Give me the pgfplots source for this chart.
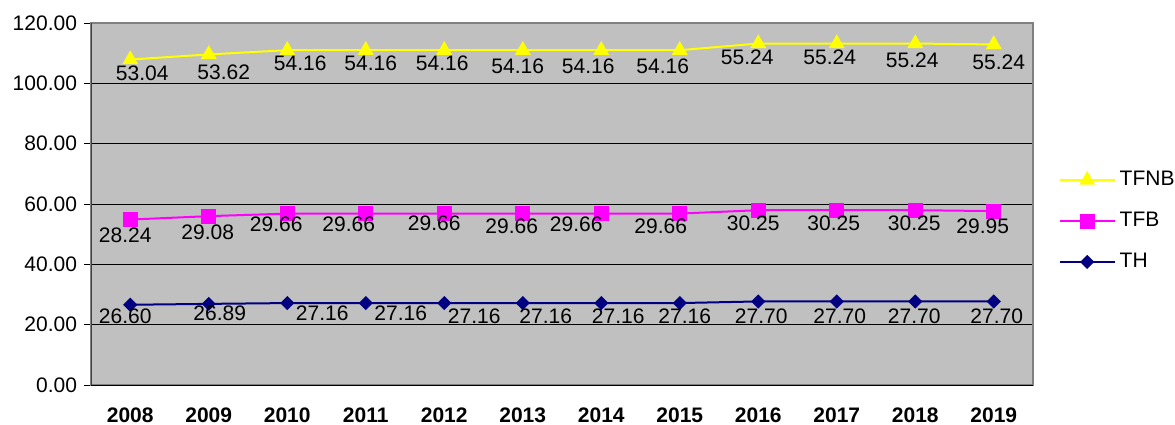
\documentclass[border=0pt]{standalone}
\usepackage{fontspec}
\setmainfont{Liberation Sans}
\usepackage{pgfplots}
\usepackage{pgfplotstable}
\pgfplotsset{compat=1.18}
\definecolor{plotgray}{RGB}{192,192,192}
\definecolor{framegray}{RGB}{128,128,128}
\definecolor{tfnbyellow}{RGB}{255,255,0}
\definecolor{tfbmagenta}{RGB}{255,0,255}
\definecolor{thnavy}{RGB}{0,0,128}
\newcommand{\chartfont}{\fontsize{10.5bp}{12bp}\selectfont}

% values per year; dx/dy = label offsets (px of the reference)
\pgfplotstableread{
x th tfb tfnb thdx thdy tfbdx tfbdy tfnbdx tfnbdy
0 26.60 28.24 53.04 -5 12 -5 16 12 13.5
1 26.89 29.08 53.62 11 9 -1 16 15 17.6
2 27.16 29.66 54.16 35 10 -11 11 13 13
3 27.16 29.66 54.16 35 10 -17 11 5 13
4 27.16 29.66 54.16 30 13 -10 10 -2 13
5 27.16 29.66 54.16 23 13 -11 13 -5 16
6 27.16 29.66 54.16 17 13 -25 11 -13 16
7 27.16 29.66 54.16 5 13 -19 13 -17 16
8 27.70 30.25 55.24 3 15 -5 13 -11 13.5
9 27.70 30.25 55.24 3 15 -3 13 -7 13.5
10 27.70 30.25 55.24 -1 15 -1 13 -3 16.5
11 27.70 29.95 55.24 3 15 -11 15 5 17.6
}\data

\pgfplotsset{
  lbl/.style 2 args={
    nodes near coords, point meta=explicit,
    visualization depends on={\thisrow{#1} \as \dx},
    visualization depends on={\thisrow{#2} \as \dy},
    every node near coord/.append style={anchor=center, inner sep=0pt,
      font=\chartfont, text=black, xshift={\dx*0.5bp}, yshift={-\dy*0.5bp}}
  }
}

\begin{document}
\begin{tikzpicture}
\begin{axis}[
  width=471bp, height=181bp, scale only axis,
  xmin=-0.5, xmax=11.5, ymin=0, ymax=120,
  stack plots=y,
  axis background/.style={fill=plotgray},
  axis line style={draw=framegray, line width=1bp},
  /pgf/number format/.cd, fixed, fixed zerofill, precision=2, assume math mode=true,
  /pgfplots/.cd,
  ytick={0,20,...,120},
  ymajorgrids, grid style={black, line width=0.5bp},
  ytick pos=left, xtick pos=lower,
  tick align=outside,
  major tick length=3.5bp,
  tick style={black, line width=0.5bp},
  yticklabel style={font=\chartfont},
  xtick={0,...,11},
  xticklabels={2008,2009,2010,2011,2012,2013,2014,2015,2016,2017,2018,2019},
  xticklabel style={font=\chartfont\bfseries, inner sep=0pt, anchor=north, yshift=-7.5bp},
  major x tick style={draw=none},
  extra x ticks={-0.5,0.5,...,11.5},
  extra x tick style={xticklabel={}, major x tick style={black, line width=0.5bp}},
  legend style={at={(1.0205,0.453)}, anchor=west, draw=none, fill=none,
    font=\chartfont, row sep=7.75bp},
  legend cell align=left,
  reverse legend,
  legend image code/.code={\draw[mark repeat=2, mark phase=2, #1]
    plot coordinates {(0bp,0bp) (13.75bp,0bp) (27.5bp,0bp)};},
]
\addplot[thnavy, line width=1bp, mark=square*, mark size=2bp,
  mark options={rotate=45, fill=thnavy}, lbl={thdx}{thdy}]
  table[x=x, y=th, meta=th] {\data};
\addlegendentry{TH}
\addplot[tfbmagenta, line width=1bp, mark=square*, mark size=3.25bp,
  mark options={fill=tfbmagenta}, lbl={tfbdx}{tfbdy}]
  table[x=x, y=tfb, meta=tfb] {\data};
\addlegendentry{TFB}
\addplot[tfnbyellow, line width=1bp, mark=triangle*, mark size=3.6bp,
  mark options={fill=tfnbyellow}, lbl={tfnbdx}{tfnbdy}]
  table[x=x, y=tfnb, meta=tfnb] {\data};
\addlegendentry{TFNB}
\draw[black!75, line width=1bp] (rel axis cs:0,1) -- (rel axis cs:0,0);
\draw[black, line width=0.5bp] (rel axis cs:0,0) -- (rel axis cs:1,0);
\coordinate (o) at (rel axis cs:0,0);
\end{axis}
\pgfresetboundingbox
\path (o) ++(-45.5bp,-20bp) rectangle ++(587.5bp,212.5bp);
\end{tikzpicture}
\end{document}
